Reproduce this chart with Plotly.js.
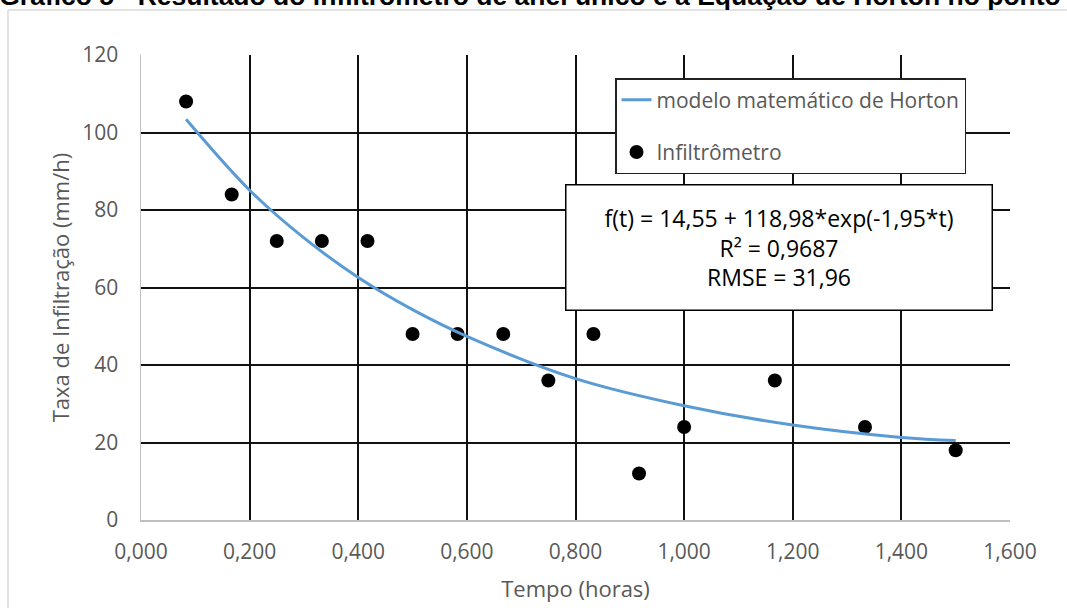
<!DOCTYPE html>
<html>
<head>
<meta charset="utf-8">
<script src="https://cdn.plot.ly/plotly-3.0.1.min.js"></script>
<style>html,body{margin:0;padding:0;background:#fff;}#chart{width:1067px;height:608px;}</style>
</head>
<body>
<div id="chart"></div>
<script>
// Infiltrômetro measurements
const hours = [0.083, 0.167, 0.25, 0.333, 0.417, 0.5, 0.583, 0.667, 0.75, 0.833, 0.917, 1.0, 1.167, 1.333, 1.5];
const rate = [108, 84, 72, 72, 72, 48, 48, 48, 36, 48, 12, 24, 36, 24, 18];
// Horton model curve
const modelT = [0.083, 0.2, 0.3, 0.4, 0.5, 0.6, 0.8, 1.0, 1.2, 1.4, 1.5];
const modelF = [103.4, 85.1, 72.8, 62.6, 54.3, 47.4, 36.5, 29.5, 24.5, 21.3, 20.5];
const xTicks = [0, 0.2, 0.4, 0.6, 0.8, 1.0, 1.2, 1.4, 1.6];
const yTicks = [0, 20, 40, 60, 80, 100, 120];
const titleText = 'Gráfico 5 - Resultado do infiltrômetro de anel único e a Equação de Horton no ponto';
const eqText = 'f(t) = 14,55 + 118,98*exp(-1,95*t)<br>R² = 0,9687<br>RMSE = 31,96';

const FONT = 'Open Sans, Noto Sans, sans-serif';
const GREY = '#595959';

const traces = [
  {
    x: hours, y: rate, type: 'scatter', mode: 'markers', name: 'Infiltrômetro',
    marker: {color: '#000000', size: 14}, legendrank: 2, legendgroup: 'b'
  },
  {
    x: modelT, y: modelF, type: 'scatter', mode: 'lines', name: 'modelo matemático de Horton',
    line: {color: '#5B9BD5', width: 3, shape: 'spline', smoothing: 1}, legendrank: 1, legendgroup: 'a'
  }
];

const layout = {
  width: 1067, height: 608,
  margin: {l: 141, r: 57, t: 55, b: 88},
  paper_bgcolor: '#ffffff', plot_bgcolor: '#ffffff',
  separators: ',.',
  font: {family: FONT, color: GREY},
  title: {
    text: '<b>' + titleText + '</b>',
    font: {family: 'Liberation Sans, Arial, sans-serif', size: 26.5, color: '#000000'},
    x: 530 / 1067, xanchor: 'center', xref: 'container',
    y: 1 - 5 / 608, yanchor: 'bottom', yref: 'container'
  },
  xaxis: {
    range: [0, 1.6], tickvals: xTicks, tickformat: '.3f',
    showgrid: true, gridcolor: '#111111', gridwidth: 2,
    zeroline: false, showline: true, linecolor: '#bfbfbf', linewidth: 1.5,
    ticks: '', tickfont: {size: 21, color: GREY, family: FONT},
    ticklabelstandoff: 12,
    title: {text: 'Tempo (horas)', font: {size: 22, color: GREY, family: FONT}, standoff: 18}
  },
  yaxis: {
    range: [0, 120], tickvals: yTicks, tickformat: 'd',
    showgrid: true, gridcolor: '#111111', gridwidth: 2,
    zeroline: false, showline: true, linecolor: '#bfbfbf', linewidth: 1.5,
    ticks: '', tickfont: {size: 21, color: GREY, family: FONT},
    ticklabelstandoff: 17,
    title: {text: 'Taxa de Infiltração (mm/h)', font: {size: 22, color: GREY, family: FONT}, standoff: 6}
  },
  showlegend: true,
  legend: {
    x: (615 - 141) / 869, xanchor: 'left',
    y: (520 - 78) / 465, yanchor: 'top',
    bgcolor: '#ffffff', bordercolor: '#222222', borderwidth: 1.5,
    font: {size: 21, color: GREY, family: FONT},
    traceorder: 'grouped', tracegroupgap: 22
  },
  annotations: [
    {
      xref: 'paper', yref: 'paper',
      x: (779 - 141) / 869, y: (520 - 247) / 465,
      xanchor: 'center', yanchor: 'middle',
      text: eqText, showarrow: false, align: 'center',
      font: {size: 23, color: '#000000', family: FONT},
      bgcolor: '#ffffff', bordercolor: '#000000', borderwidth: 1.5, borderpad: 0,
      width: 425, height: 124
    }
  ],
  shapes: [
    {type: 'line', xref: 'paper', yref: 'paper', x0: (8 - 141) / 869, x1: (8 - 141) / 869,
     y0: (520 - 10) / 465, y1: (520 - 640) / 465, line: {color: '#d9d9d9', width: 1.5}, layer: 'below'},
    {type: 'line', xref: 'paper', yref: 'paper', x0: (8 - 141) / 869, x1: (1100 - 141) / 869,
     y0: (520 - 10) / 465, y1: (520 - 10) / 465, line: {color: '#d9d9d9', width: 1.5}, layer: 'below'}
  ]
};

Plotly.newPlot('chart', traces, layout, {displayModeBar: false, staticPlot: true});
</script>
</body>
</html>
